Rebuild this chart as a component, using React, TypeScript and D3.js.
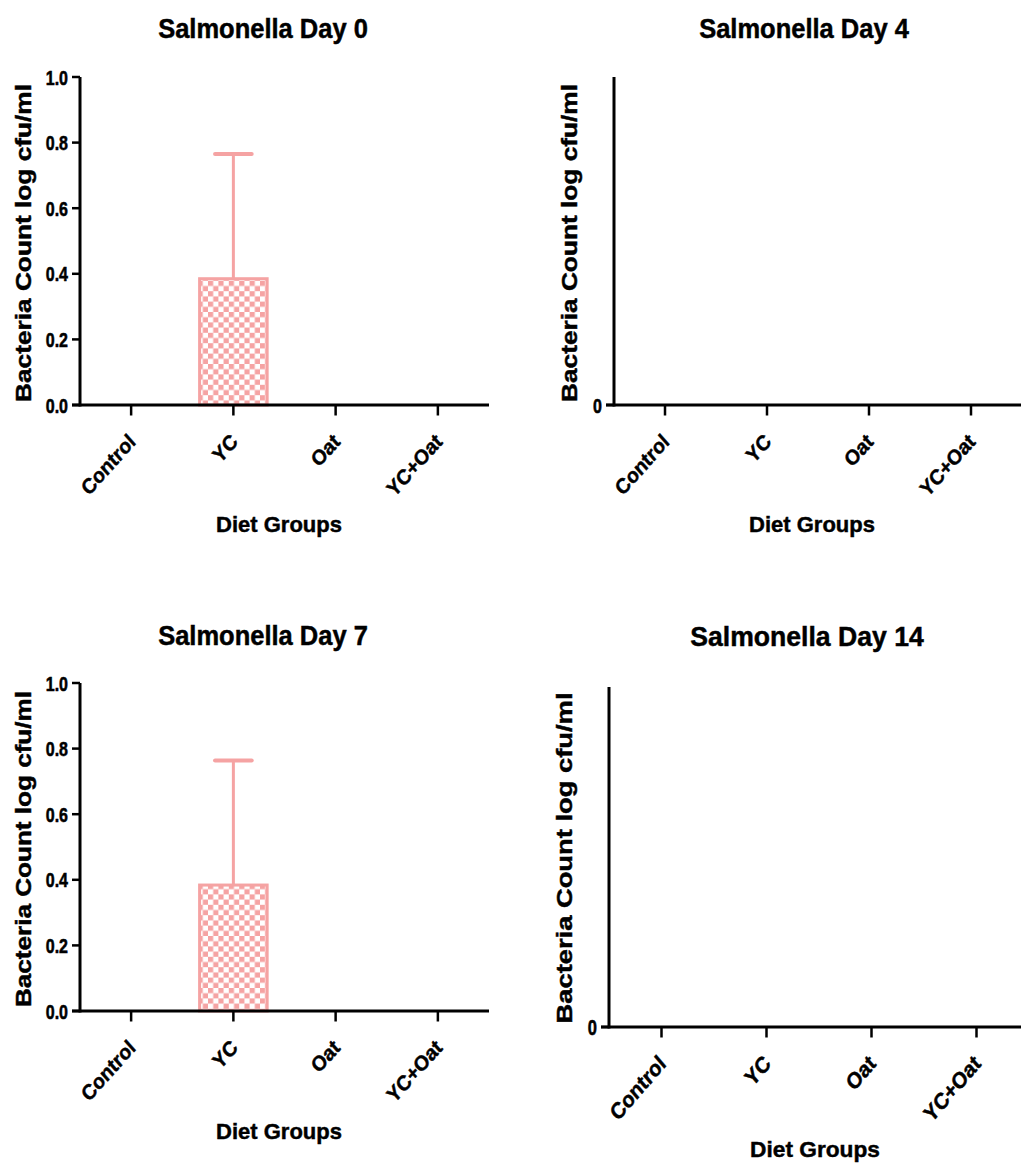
import React from "react";
import * as d3 from "d3";

const groups = ["Control", "YC", "Oat", "YC+Oat"];
const day0Mean = [0, 0.385, 0, 0];
const day0Err = [0, 0.38, 0, 0];
const day4Mean = [0, 0, 0, 0];
const day4Err = [0, 0, 0, 0];
const day7Mean = [0, 0.384, 0, 0];
const day7Err = [0, 0.38, 0, 0];
const day14Mean = [0, 0, 0, 0];
const day14Err = [0, 0, 0, 0];
const decimalTicks = [0, 0.2, 0.4, 0.6, 0.8, 1.0];
const zeroTicks = [0];
const titles = ["Salmonella Day 0", "Salmonella Day 4", "Salmonella Day 7", "Salmonella Day 14"];
const yTitle = "Bacteria Count log cfu/ml";
const xTitle = "Diet Groups";

const PINK = "#f5a3a3";
const FONT = "'Liberation Sans', Arial, Helvetica, sans-serif";

type PanelCfg = {
  id: string;
  title: string;
  mean: number[];
  err: number[];
  ticks: number[];
  fmt: (v: number) => string;
  left: number;
  right: number;
  top: number;
  bottom: number;
  titleX: number;
  titleY: number;
  titleSize: number;
  yLabX: number;
  yLabY: number;
  yLabLen: number;
  yLabSize: number;
  xLabX: number;
  xLabY: number;
  xLabSize: number;
  tickSize: number;
  tickStretch: number;
  yTickSize: number;
};

const fmtDec = d3.format(".1f");
const fmtInt = d3.format("d");

const panels: PanelCfg[] = [
  {
    id: "a", title: titles[0], mean: day0Mean, err: day0Err, ticks: decimalTicks, fmt: fmtDec,
    left: 80, right: 489, top: 77, bottom: 405,
    titleX: 263, titleY: 37.5, titleSize: 25.5,
    yLabX: 31, yLabY: 243, yLabLen: 318, yLabSize: 22,
    xLabX: 279, xLabY: 532, xLabSize: 22, tickSize: 19, tickStretch: 1.12, yTickSize: 16,
  },
  {
    id: "b", title: titles[1], mean: day4Mean, err: day4Err, ticks: zeroTicks, fmt: fmtInt,
    left: 614, right: 1022, top: 77, bottom: 405,
    titleX: 804, titleY: 37.5, titleSize: 25.5,
    yLabX: 577, yLabY: 243, yLabLen: 318, yLabSize: 22,
    xLabX: 812, xLabY: 532, xLabSize: 22, tickSize: 19, tickStretch: 1.12, yTickSize: 16,
  },
  {
    id: "c", title: titles[2], mean: day7Mean, err: day7Err, ticks: decimalTicks, fmt: fmtDec,
    left: 80, right: 489, top: 683, bottom: 1011,
    titleX: 263, titleY: 645, titleSize: 25.5,
    yLabX: 31, yLabY: 849, yLabLen: 316, yLabSize: 22,
    xLabX: 279, xLabY: 1139, xLabSize: 22, tickSize: 19, tickStretch: 1.12, yTickSize: 16,
  },
  {
    id: "d", title: titles[3], mean: day14Mean, err: day14Err, ticks: zeroTicks, fmt: fmtInt,
    left: 609, right: 1029, top: 687, bottom: 1027,
    titleX: 807, titleY: 646, titleSize: 26.6,
    yLabX: 572, yLabY: 858, yLabLen: 331, yLabSize: 22.5,
    xLabX: 815, xLabY: 1157, xLabSize: 22.7, tickSize: 19.5, tickStretch: 1.16, yTickSize: 16.5,
  },
];

function Panel({ cfg }: { cfg: PanelCfg }) {
  const x = d3
    .scaleBand<string>()
    .domain(groups)
    .range([cfg.left, cfg.right])
    .paddingInner(0.31)
    .paddingOuter(0.155);
  const y = d3.scaleLinear().domain([0, 1]).range([cfg.bottom, cfg.top]);
  const bw = x.bandwidth();
  const capW = bw * 0.52;

  return (
    <g fontFamily={FONT} fontWeight="bold" fill="#000" stroke="#000" strokeWidth={0.45}>
      <text
        transform={`translate(${cfg.titleX},${cfg.titleY}) scale(1,1.06)`}
        textAnchor="middle"
        fontSize={cfg.titleSize}
      >
        {cfg.title}
      </text>

      {/* bars */}
      {groups.map((g, i) => {
        const v = cfg.mean[i];
        if (v <= 0) return null;
        const x0 = x(g)!;
        const cx = x0 + bw / 2;
        const yTop = y(v);
        const yErr = y(v + cfg.err[i]);
        return (
          <g key={g}>
            <rect
              x={x0 + 1.5}
              y={yTop}
              width={bw - 3}
              height={y(0) - yTop}
              fill={`url(#checker-${cfg.id})`}
              stroke={PINK}
              strokeWidth={3}
            />
            <line x1={cx} x2={cx} y1={yTop} y2={yErr} stroke={PINK} strokeWidth={3} />
            <line
              x1={cx - capW / 2}
              x2={cx + capW / 2}
              y1={yErr}
              y2={yErr}
              stroke={PINK}
              strokeWidth={4}
              strokeLinecap="round"
            />
          </g>
        );
      })}

      {/* y axis */}
      <line x1={cfg.left} x2={cfg.left} y1={cfg.top} y2={cfg.bottom + 1.5} stroke="#000" strokeWidth={3} />
      {cfg.ticks.map((t) => (
        <g key={t}>
          <line x1={cfg.left - 8} x2={cfg.left} y1={y(t)} y2={y(t)} stroke="#000" strokeWidth={2.5} />
          <text
            transform={`translate(${cfg.left - 12},${y(t) + 7.5}) scale(1,1.3)`}
            textAnchor="end"
            fontSize={cfg.yTickSize}
          >
            {cfg.fmt(t)}
          </text>
        </g>
      ))}

      {/* x axis */}
      <line x1={cfg.left - 8} x2={cfg.right} y1={cfg.bottom} y2={cfg.bottom} stroke="#000" strokeWidth={3} />
      {groups.map((g) => {
        const cx = x(g)! + bw / 2;
        return (
          <g key={g}>
            <line x1={cx} x2={cx} y1={cfg.bottom} y2={cfg.bottom + 10.5} stroke="#000" strokeWidth={2.5} />
            <text
              transform={`translate(${cx + 5.5},${cfg.bottom + 38}) scale(1,${cfg.tickStretch}) rotate(-45)`}
              textAnchor="end"
              fontSize={cfg.tickSize}
            >
              {g}
            </text>
          </g>
        );
      })}

      {/* axis titles */}
      <text
        transform={`translate(${cfg.yLabX},${cfg.yLabY}) rotate(-90)`}
        textAnchor="middle"
        fontSize={cfg.yLabSize}
        textLength={cfg.yLabLen}
        lengthAdjust="spacingAndGlyphs"
      >
        {yTitle}
      </text>
      <text x={cfg.xLabX} y={cfg.xLabY} textAnchor="middle" fontSize={cfg.xLabSize}>
        {xTitle}
      </text>
    </g>
  );
}

export default function App() {
  return (
    <svg
      width={1021}
      height={1167}
      viewBox="0 0 1021 1167"
      style={{ position: "absolute", left: 0, top: 0, display: "block", background: "#fff" }}
    >
      <defs>
        {panels.map((p) => (
          <pattern key={p.id} id={`checker-${p.id}`} patternUnits="userSpaceOnUse" width={10.4} height={10.4}>
            <rect width={10.4} height={10.4} fill="#fff" />
            <rect x={0} y={0} width={5.2} height={5.2} fill={PINK} />
            <rect x={5.2} y={5.2} width={5.2} height={5.2} fill={PINK} />
          </pattern>
        ))}
      </defs>
      <rect width={1021} height={1167} fill="#fff" />
      {panels.map((p) => (
        <Panel key={p.id} cfg={p} />
      ))}
    </svg>
  );
}
